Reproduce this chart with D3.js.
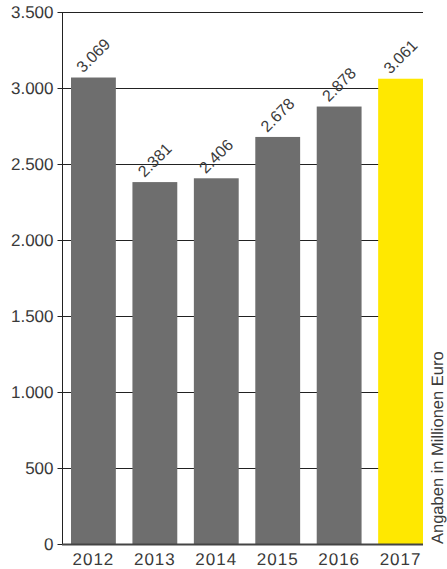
<!DOCTYPE html>
<html>
<head>
<meta charset="utf-8">
<script src="https://cdn.jsdelivr.net/npm/d3@7/dist/d3.min.js"></script>
<style>
  html, body { margin: 0; padding: 0; background: #fff; }
  svg { display: block; font-family: "Liberation Sans", Arial, sans-serif; }
  text { text-rendering: geometricPrecision; }
</style>
</head>
<body>
<svg id="chart" width="447" height="569"></svg>
<script>
// Annual spending, in million euro
const years = ["2012", "2013", "2014", "2015", "2016", "2017"];
const values = [3069, 2381, 2406, 2678, 2878, 3061];
const valueLabels = ["3.069", "2.381", "2.406", "2.678", "2.878", "3.061"];
const yTicks = [0, 500, 1000, 1500, 2000, 2500, 3000, 3500];
const yTickLabels = ["0", "500", "1.000", "1.500", "2.000", "2.500", "3.000", "3.500"];
const unitLabel = "Angaben in Millionen Euro";

const svg = d3.select("#chart");
const axisX = 62, plotRight = 423, plotTop = 12, plotBottom = 544;
const textColor = "#3a3a3a";

const x = d3.scaleBand().domain(years).range([71, 423]).paddingInner(0.27).paddingOuter(0);
const y = d3.scaleLinear().domain([0, 3500]).range([plotBottom, plotTop]);

// Horizontal grid lines
svg.append("g").selectAll("line").data(yTicks.slice(1)).join("line")
  .attr("x1", axisX).attr("x2", plotRight)
  .attr("y1", d => Math.round(y(d)) + 0.5).attr("y2", d => Math.round(y(d)) + 0.5)
  .attr("stroke", "#222").attr("stroke-width", 1);

// Bars
svg.append("g").selectAll("rect").data(values).join("rect")
  .attr("x", (d, i) => x(years[i]))
  .attr("width", x.bandwidth())
  .attr("y", d => y(d))
  .attr("height", d => plotBottom - y(d))
  .attr("fill", (d, i) => i === years.length - 1 ? "#ffe800" : "#6e6e6e");

// Y axis
const yAxis = d3.axisLeft(y).tickValues(yTicks)
  .tickFormat((d, i) => yTickLabels[i]).tickSize(5).tickPadding(4);
const gy = svg.append("g").attr("transform", `translate(${axisX + 0.5},0)`).call(yAxis);
gy.select(".domain").attr("stroke", "#222").attr("d", `M0,${plotTop}V${plotBottom}`);
gy.selectAll(".tick line").attr("stroke", "#222");
gy.selectAll(".tick text").attr("fill", textColor).attr("font-size", 17)
  .attr("font-family", "Liberation Sans, Arial, sans-serif");

// Baseline
svg.append("line").attr("x1", axisX).attr("x2", plotRight)
  .attr("y1", plotBottom + 0.5).attr("y2", plotBottom + 0.5)
  .attr("stroke", "#444").attr("stroke-width", 2);

// X axis labels
svg.append("g").selectAll("text").data(years).join("text")
  .attr("x", d => x(d) + x.bandwidth() / 2)
  .attr("y", 565)
  .attr("text-anchor", "middle")
  .attr("fill", textColor).attr("font-size", 17)
  .attr("letter-spacing", 1)
  .text(d => d);

// Value labels, running diagonally up from each bar top
svg.append("g").selectAll("g").data(values).join("g")
  .attr("transform", (d, i) => `translate(${x(years[i]) + 12},${y(d) - 4})`)
  .append("text")
  .attr("transform", "rotate(-45)")
  .attr("fill", textColor).attr("font-size", 16)
  .text((d, i) => valueLabels[i]);

// Unit label
svg.append("text")
  .attr("transform", `translate(443,${plotBottom}) rotate(-90)`)
  .attr("fill", textColor).attr("font-size", 16.5)
  .text(unitLabel);
</script>
</body>
</html>
